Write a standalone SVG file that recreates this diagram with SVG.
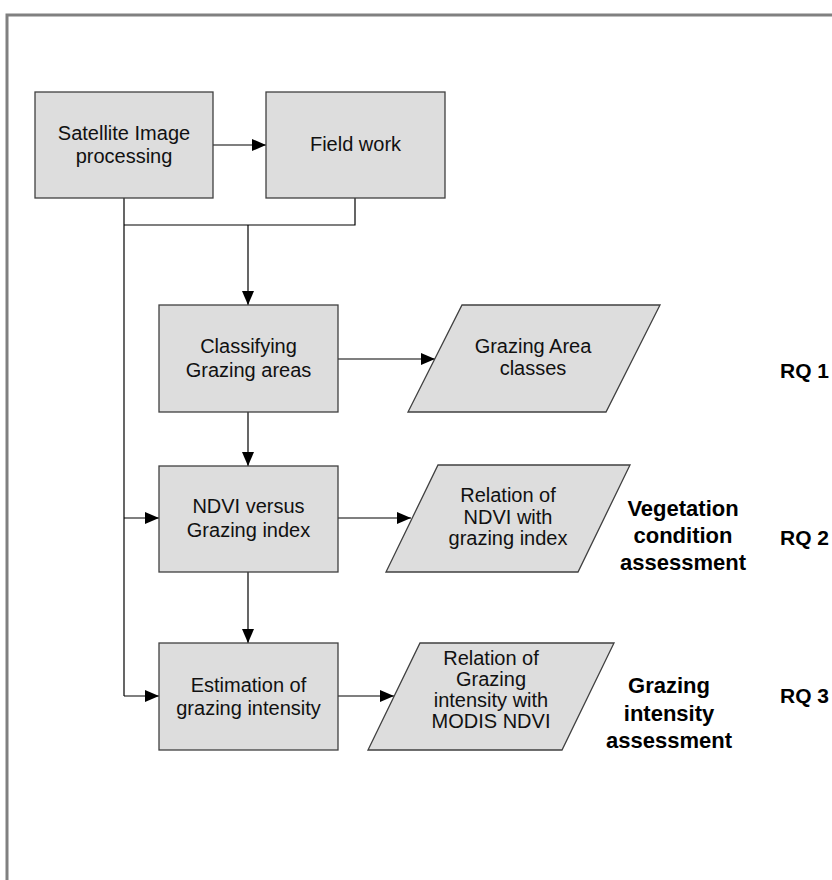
<svg xmlns="http://www.w3.org/2000/svg" width="832" height="880" viewBox="0 0 832 880">
<defs>
<marker id="arr" markerUnits="userSpaceOnUse" markerWidth="14" markerHeight="12" refX="14" refY="6" orient="auto">
<path d="M0,0 L14,6 L0,12 z" fill="#000"/>
</marker>
<style>
.box{fill:#dddddd;stroke:#404040;stroke-width:1.3}
.t{font-family:"Liberation Sans",Arial,sans-serif;font-size:20px;fill:#111;text-anchor:middle}
.b{font-family:"Liberation Sans",Arial,sans-serif;font-size:22px;font-weight:bold;fill:#000;text-anchor:middle}
.rq{font-family:"Liberation Sans",Arial,sans-serif;font-size:21px;font-weight:bold;fill:#000}
.c{fill:none;stroke:#000;stroke-width:1.2}
.ca{fill:none;stroke:#000;stroke-width:1.2;marker-end:url(#arr)}
</style>
</defs>
<rect width="832" height="880" fill="#fff"/>
<path d="M7,880 V15 H832" fill="none" stroke="#808080" stroke-width="3"/>

<g id="connectors">
<path class="ca" d="M213,145 H266"/>
<path class="c" d="M124,198 V696"/>
<path class="c" d="M355,198 V225 H124"/>
<path class="ca" d="M248,225 V305"/>
<path class="ca" d="M338,359 H435"/>
<path class="ca" d="M248,412 V466"/>
<path class="ca" d="M124,518 H159"/>
<path class="ca" d="M338,518 H411"/>
<path class="ca" d="M248,572 V643"/>
<path class="ca" d="M124,696 H159"/>
<path class="ca" d="M338,696 H394"/>
</g>

<g id="satellite">
<rect class="box" x="35" y="92" width="178" height="106"/>
<text class="t" x="124" y="140">Satellite Image</text>
<text class="t" x="124" y="163">processing</text>
</g>
<g id="fieldwork">
<rect class="box" x="266" y="92" width="179" height="106"/>
<text class="t" x="355.5" y="151">Field work</text>
</g>
<g id="classifying">
<rect class="box" x="159" y="305" width="179" height="107"/>
<text class="t" x="248.5" y="353">Classifying</text>
<text class="t" x="248.5" y="377">Grazing areas</text>
</g>
<g id="classes">
<polygon class="box" points="462,305 660,305 606,412 408,412"/>
<text class="t" x="533" y="353">Grazing Area</text>
<text class="t" x="533" y="375">classes</text>
</g>
<g id="ndvi">
<rect class="box" x="159" y="466" width="179" height="106"/>
<text class="t" x="248.5" y="513">NDVI versus</text>
<text class="t" x="248.5" y="537">Grazing index</text>
</g>
<g id="relation-ndvi">
<polygon class="box" points="438,465 630,465 578,572 386,572"/>
<text class="t" x="508" y="502">Relation of</text>
<text class="t" x="508" y="523.5">NDVI with</text>
<text class="t" x="508" y="545">grazing index</text>
</g>
<g id="estimation">
<rect class="box" x="159" y="643" width="179" height="107"/>
<text class="t" x="248.5" y="692">Estimation of</text>
<text class="t" x="248.5" y="715">grazing intensity</text>
</g>
<g id="relation-modis">
<polygon class="box" points="420,643 614,643 562,750 368,750"/>
<text class="t" x="491" y="665">Relation of</text>
<text class="t" x="491" y="686">Grazing</text>
<text class="t" x="491" y="707">intensity with</text>
<text class="t" x="491" y="728">MODIS NDVI</text>
</g>

<g id="labels">
<text class="b" x="683" y="516">Vegetation</text>
<text class="b" x="683" y="543">condition</text>
<text class="b" x="683" y="570">assessment</text>
<text class="b" x="669" y="693">Grazing</text>
<text class="b" x="669" y="721">intensity</text>
<text class="b" x="669" y="748">assessment</text>
<text class="rq" x="780" y="378">RQ 1</text>
<text class="rq" x="780" y="545">RQ 2</text>
<text class="rq" x="780" y="703">RQ 3</text>
</g>
</svg>
